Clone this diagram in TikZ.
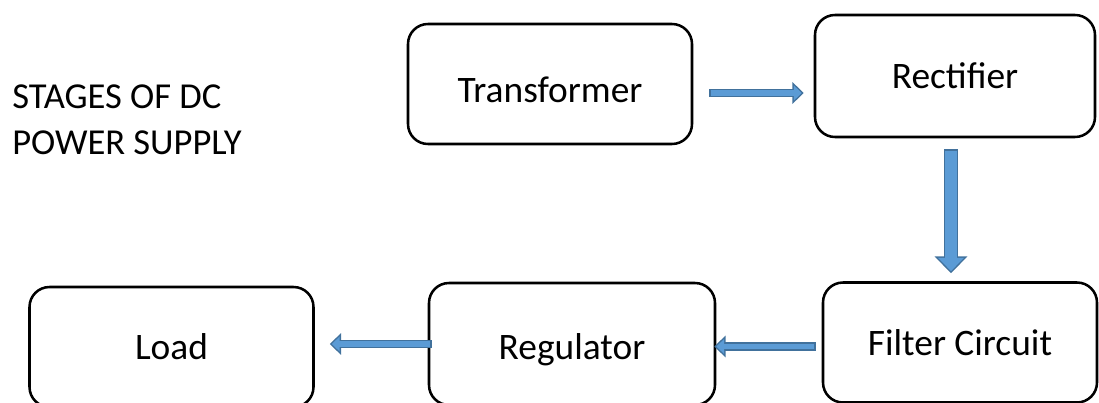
\documentclass[tikz,border=0pt]{standalone}
\usepackage{fontspec}
\setmainfont{Carlito}
\usetikzlibrary{arrows.meta,calc}
\definecolor{flowfill}{HTML}{5B9BD5}
\definecolor{flowline}{HTML}{41719C}

\begin{document}
\begin{tikzpicture}[
  stage/.style={draw, line width=1.8pt, rounded corners=0.5cm,
    minimum width=7.1cm, minimum height=3cm, font=\fontsize{26.6}{32}\selectfont},
  lowtext/.style={text height=27pt},
  flow/.style={draw=flowfill, line width=3.7pt, shorten <=1pt, shorten >=1.5pt,
    -{Triangle[length=5.5pt,width=10.4pt]},
    preaction={draw=flowline, line width=5.7pt, shorten <=0pt, shorten >=0pt,
      -{Triangle[length=8pt,width=15pt]}}},
  bigflow/.style={draw=flowfill, line width=8pt, shorten <=1pt, shorten >=1.5pt,
    -{Triangle[length=9.5pt,width=18pt]},
    preaction={draw=flowline, line width=10pt, shorten <=0pt, shorten >=0pt,
      -{Triangle[length=12pt,width=22.7pt]}}}
]
  \useasboundingbox (0,0) rectangle (27.475,-10.075);

  % title
  \node[anchor=west, align=left, inner sep=0pt,
    font=\fontsize{26}{32.7}\selectfont] (title) at (0.3,-3.0)
    {STAGES OF DC\\POWER SUPPLY};

  % stages
  \node[stage, lowtext] (trans) at (13.75,-2.1) {Transformer};
  \node[stage, minimum width=7cm, minimum height=3.05cm] (rect) at (23.875,-1.9) {Rectifier};
  \node[stage, minimum width=6.85cm] (filter) at (24,-8.5625) {Filter Circuit};
  \node[stage, lowtext, minimum width=7.15cm, minimum height=3.05cm] (reg) at (14.3,-8.6) {Regulator};
  \node[stage] (load) at (4.2875,-8.675) {Load};

  % block arrows
  \draw[flow] ($(trans.east)+(0.4,-0.225)$) -- ($(trans.east -| rect.west)+(-0.25,-0.225)$);
  \draw[bigflow] ($(rect.south)+(-0.1,-0.275)$) -- ($(rect.south |- filter.north)+(-0.1,0.2)$);
  \draw[flow] ($(filter.west)+(-0.15,-0.1)$) -- ($(filter.west -| reg.east)+(-0.05,-0.1)$);
  \draw[flow] ($(reg.west)+(0.1,0)$) -- ($(reg.west -| load.east)+(0.375,0)$);
\end{tikzpicture}
\end{document}
